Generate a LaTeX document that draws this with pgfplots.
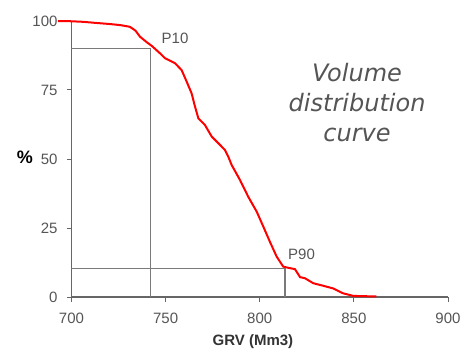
\documentclass[border=0pt]{standalone}
\usepackage{pgfplots}
\pgfplotsset{compat=1.18}
\usepackage{fontspec}
\setmainfont{Liberation Sans}
\newfontfamily\verd{DejaVu Sans}
\definecolor{axgray}{HTML}{666666}
\definecolor{lngray}{HTML}{7A7A7A}
\definecolor{txgray}{HTML}{555555}
\begin{document}
\begin{tikzpicture}
\path[use as bounding box] (0,0) rectangle (471pt,351pt);
\begin{axis}[
  at={(71.5pt,54pt)}, anchor=south west,
  scale only axis, width=376.5pt, height=276pt,
  xmin=700, xmax=900, ymin=0, ymax=100,
  axis x line*=bottom, axis y line*=left,
  axis line style={-, draw=axgray, line width=1.3pt},
  xtick={700,750,...,900}, ytick={0,25,50,75,100},
  tick align=outside, major tick length=4.5pt,
  tick style={draw=axgray, line width=1pt},
  /pgf/number format/assume math mode=true,
  /pgf/number format/1000 sep={},
  ticklabel style={font=\fontsize{15}{18}\selectfont, text=txgray},
  yticklabel style={anchor=east, xshift=-6pt},
  xticklabel style={anchor=north, yshift=-8pt},
  xlabel={\textbf{GRV (Mm3)}},
  xlabel style={font=\fontsize{15}{18}\selectfont, text=black!80, at={(axis description cs:0.482,-0.162)}, anchor=center},
  ylabel={\textbf{\%}},
  ylabel style={font=\fontsize{18}{20}\selectfont, rotate=-90, at={(axis description cs:-0.1235,0.507)}, anchor=center},
  clip=false,
]
\addplot[lngray, line width=1.5pt] coordinates {(700,90) (742,90)};
\addplot[lngray, line width=1.5pt] coordinates {(742,0) (742,90)};
\addplot[lngray, line width=1.5pt] coordinates {(700,10.4) (813.3,10.4)};
\addplot[lngray, line width=1.5pt] coordinates {(813.3,0) (813.3,10.4)};
\addplot[red, line width=2pt] coordinates {
(692.8,100) (700,99.9) (706.3,99.7) (713,99.3) (720.4,98.9) (726,98.5)
(731,97.9) (734,96.5) (736.4,94.3) (740,92.3) (742.6,91) (747,88.3)
(749.7,86.5) (755,84.7) (758.5,82.2) (761.2,78) (763.8,73.8) (765.6,69)
(767.4,64.7) (770.9,62.3) (774.5,58.1) (778.9,55.1) (781.5,53.3) (783.3,50.8)
(785.1,47.8) (789.5,42.4) (793.9,36.3) (798.4,30.9) (801.9,25.5) (805.4,20)
(809,14.6) (812.5,11) (815,10.6) (818.7,10.1) (821.4,7.2) (824,6.8)
(828.4,5) (833,4.2) (839,3.1) (844.4,1.3) (849.7,0.4) (855,0.3) (862,0.2)};
\node[font=\fontsize{15}{18}\selectfont, text=txgray] at (axis cs:755,93.7) {P10};
\node[font=\fontsize{15}{18}\selectfont, text=txgray] at (axis cs:822.2,15.6) {P90};
\node[font=\verd\itshape\fontsize{24}{30}\selectfont, text=txgray, align=center] at (axis cs:851.7,70.3) {Volume\\distribution\\curve};
\end{axis}
\end{tikzpicture}
\end{document}
